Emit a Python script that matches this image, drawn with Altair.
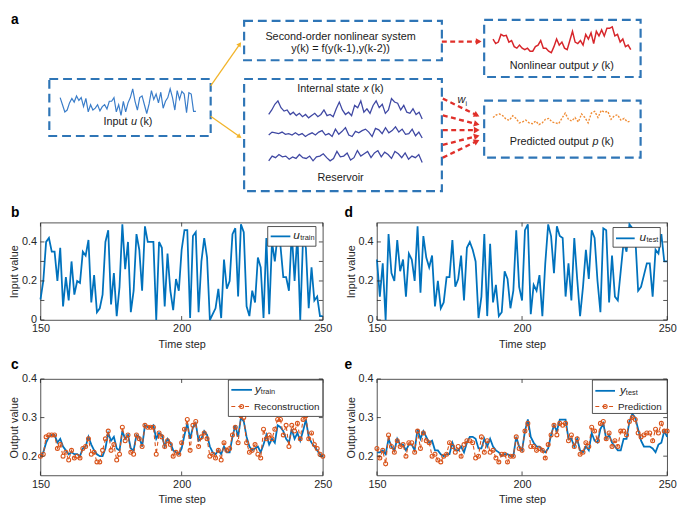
import altair as alt
import pandas as pd
import numpy as np

# ---------------- data ----------------
steps = list(range(150, 251))

u_train = [0.105,0.2,0.4,0.42,0.35,0.35,0.2,0.37,0.07,0.22,
           0.1,0.3,0.13,0.2,0.19,0.35,0.33,0.41,0.09,0.23,
           0.04,0.06,0.13,0.4,0.46,0.08,0.24,0.02,0.17,0.49,
           0.26,0.4,0.04,0.15,0.44,0.36,0.15,0.48,0.4,0.4,
           0.4,0.0,0.4,0.37,0.07,0.34,0.15,0.05,0.21,0.15,
           0.36,0.46,0.46,0.01,0.43,0.45,0.04,0.3,0.42,0.32,
           0.0,0.03,0.06,0.16,0.01,0.31,0.16,0.2,0.44,0.47,
           0.12,0.49,0.45,0.07,0.02,0.15,0.09,0.32,0.27,0.01,
           0.42,0.03,0.4,0.3,0.44,0.38,0.22,0.22,0.15,0.45,
           0.2,0.44,0.0,0.42,0.37,0.06,0.27,0.1,0.12,0.02,
           0.02]

u_test = [0.31,0.12,0.29,0.0,0.44,0.24,0.2,0.41,0.25,0.31,
          0.12,0.34,0.31,0.2,0.48,0.14,0.43,0.32,0.27,0.33,
          0.07,0.2,0.06,0.09,0.22,0.22,0.41,0.17,0.21,0.33,
          0.1,0.37,0.4,0.36,0.3,0.01,0.12,0.44,0.02,0.39,
          0.09,0.18,0.02,0.04,0.25,0.21,0.06,0.15,0.46,0.17,
          0.1,0.46,0.49,0.03,0.18,0.15,0.23,0.02,0.29,0.49,
          0.43,0.24,0.48,0.43,0.42,0.12,0.29,0.1,0.42,0.21,
          0.02,0.17,0.36,0.21,0.46,0.42,0.2,0.04,0.47,0.46,
          0.09,0.33,0.12,0.1,0.25,0.4,0.35,0.49,0.47,0.43,
          0.15,0.17,0.23,0.29,0.29,0.12,0.36,0.34,0.44,0.3,
          0.3]

y_train = [0.2,0.21,0.235,0.25,0.255,0.255,0.235,0.245,0.225,0.215,
           0.205,0.21,0.205,0.205,0.2,0.22,0.225,0.25,0.23,0.215,
           0.205,0.2,0.2,0.22,0.26,0.24,0.25,0.22,0.215,0.265,
           0.245,0.255,0.22,0.215,0.255,0.25,0.225,0.28,0.275,0.275,
           0.28,0.245,0.26,0.255,0.225,0.245,0.235,0.215,0.21,0.205,
           0.22,0.255,0.285,0.245,0.275,0.285,0.24,0.245,0.265,0.255,
           0.225,0.21,0.205,0.215,0.205,0.225,0.21,0.21,0.25,0.28,
           0.25,0.3,0.29,0.25,0.225,0.215,0.22,0.225,0.21,0.23,
           0.255,0.23,0.245,0.235,0.28,0.275,0.265,0.245,0.235,0.27,
           0.245,0.26,0.24,0.265,0.295,0.25,0.235,0.225,0.215,0.205,
           0.2]

reconstruction = [0.2,0.205,0.25,0.255,0.255,0.255,0.22,0.23,0.2,0.21,
                  0.19,0.215,0.195,0.2,0.195,0.22,0.225,0.245,0.205,0.21,
                  0.185,0.185,0.215,0.245,0.265,0.215,0.23,0.19,0.205,0.275,
                  0.24,0.255,0.21,0.205,0.255,0.245,0.225,0.28,0.275,0.275,
                  0.275,0.205,0.26,0.25,0.225,0.24,0.23,0.2,0.21,0.205,
                  0.235,0.27,0.295,0.215,0.28,0.29,0.225,0.25,0.26,0.245,
                  0.2,0.205,0.195,0.215,0.19,0.235,0.215,0.22,0.255,0.275,
                  0.235,0.305,0.3,0.235,0.21,0.215,0.23,0.205,0.195,0.27,
                  0.245,0.255,0.245,0.27,0.295,0.295,0.255,0.28,0.225,0.28,
                  0.265,0.285,0.245,0.295,0.305,0.245,0.26,0.23,0.22,0.205,
                  0.2]

y_test = [0.21,0.21,0.215,0.205,0.245,0.225,0.215,0.245,0.23,0.23,
          0.215,0.23,0.23,0.215,0.27,0.245,0.265,0.25,0.235,0.24,
          0.215,0.215,0.205,0.2,0.205,0.205,0.235,0.215,0.215,0.225,
          0.21,0.235,0.25,0.25,0.245,0.22,0.22,0.245,0.225,0.245,
          0.225,0.215,0.21,0.2,0.205,0.205,0.2,0.2,0.25,0.225,
          0.215,0.265,0.295,0.25,0.235,0.225,0.225,0.215,0.21,0.22,
          0.255,0.28,0.265,0.295,0.295,0.295,0.245,0.245,0.225,0.245,
          0.215,0.21,0.225,0.215,0.26,0.24,0.235,0.27,0.285,0.245,
          0.255,0.235,0.225,0.215,0.215,0.245,0.245,0.29,0.31,0.3,
          0.27,0.24,0.225,0.225,0.225,0.22,0.21,0.23,0.235,0.265,
          0.25]

prediction = [0.22,0.195,0.215,0.18,0.255,0.225,0.21,0.24,0.225,0.23,
              0.2,0.235,0.235,0.21,0.265,0.22,0.26,0.24,0.235,0.2,
              0.205,0.19,0.185,0.2,0.205,0.235,0.225,0.21,0.225,0.2,
              0.23,0.24,0.24,0.235,0.195,0.2,0.25,0.21,0.24,0.21,
              0.215,0.195,0.185,0.205,0.205,0.185,0.2,0.2,0.25,0.22,
              0.215,0.265,0.285,0.225,0.225,0.215,0.22,0.215,0.195,0.23,
              0.255,0.28,0.255,0.285,0.28,0.285,0.24,0.255,0.225,0.245,
              0.205,0.21,0.235,0.225,0.275,0.265,0.24,0.285,0.29,0.245,
              0.26,0.225,0.24,0.225,0.265,0.265,0.255,0.29,0.3,0.295,
              0.26,0.25,0.255,0.26,0.26,0.24,0.27,0.26,0.285,0.265,
              0.265]

x_ticks = [150, 200, 250]
input_ticks = [0, 0.1, 0.2, 0.3, 0.4]
output_ticks = [0.2, 0.3, 0.4]

# schematic sparklines (relative heights 0..1)
wave_input = [0.67,0.4,0.13,0.2,0.47,0.64,0.5,0.73,0.56,0.67,0.33,0.64,0.13,0.4,0.2,0.27,
              0.4,0.17,0.33,0.4,0.24,0.53,0.53,0.67,0.13,0.4,0.0,0.53,0.13,0.47,0.67,1.0,
              0.53,0.2,0.67,0.73,0.4,0.07,0.43,0.93,0.6,0.8,0.47,0.87,0.27,0.53,0.67,1.0,
              0.67,0.2,0.93,0.6,0.9,0.8,0.1,0.85,0.8,0.15,0.15]
wave_nonlinear = [0.6,0.45,0.5,0.75,0.7,0.72,0.5,0.55,0.35,0.3,0.4,0.3,0.25,0.3,0.2,0.2,
                  0.35,0.4,0.55,0.3,0.3,0.2,0.15,0.35,0.6,0.4,0.5,0.3,0.25,0.55,0.85,0.5,
                  0.45,0.55,0.4,0.75,0.6,0.8,0.45,0.85,0.7,0.9,0.7,0.95,0.95,1.0,0.7,0.75,
                  0.5,0.6,0.35,0.4,0.25]
wave_predicted = [0.6,0.75,0.8,0.7,0.5,0.45,0.7,0.55,0.3,0.35,0.45,0.3,0.25,0.4,0.2,0.3,
                  0.5,0.55,0.35,0.3,0.25,0.55,0.85,0.5,0.4,0.6,0.35,0.8,0.6,0.3,0.85,0.95,
                  0.6,1.0,0.9,0.95,0.5,0.7,0.75,0.45,0.55,0.35,0.4]
wave_res1 = [0.3,0.5,0.75,0.9,0.6,0.45,0.5,0.3,0.4,0.25,0.35,0.2,0.3,0.15,0.25,0.35,0.2,
             0.3,0.5,0.25,0.3,0.2,0.55,0.85,0.5,0.3,0.4,0.25,0.7,0.6,0.9,0.4,0.55,0.35,
             0.7,0.9,0.6,0.75,0.35,0.5,1.0,0.85,0.8,0.5,0.7,0.4,0.35,0.55,0.3,0.4,0.1]
wave_res2 = [0.4,0.6,0.55,0.5,0.6,0.45,0.5,0.4,0.55,0.4,0.5,0.3,0.45,0.55,0.4,0.6,0.7,
             0.4,0.5,0.3,0.8,0.45,0.65,0.9,0.4,0.3,0.65,0.55,0.7,0.8,0.6,0.3,0.85,0.75,
             0.5,0.9,0.55,0.7,0.95,0.6,0.8,0.45,0.5,0.8,0.35,0.6,0.2]
wave_res3 = [0.3,0.6,0.5,0.7,0.55,0.6,0.4,0.55,0.45,0.7,0.5,0.45,0.6,0.3,0.55,0.6,0.75,
             0.5,0.3,0.45,0.9,0.55,0.6,0.8,0.35,0.5,0.95,0.6,0.75,0.9,0.5,0.8,0.95,0.55,
             0.85,0.7,0.45,0.9,0.75,0.5,0.8,0.4,0.6,0.5,0.7,0.2]

# ---------------- style ----------------
FONT = "Liberation Sans"
BLUE = "#0072BD"
ORANGE = "#D95319"
AX = "#262626"
BOXC = "#2E75B6"
RED = "#E0302A"
YEL = "#F2B42A"

# ---------------- schematic (panel a) ----------------
SX = alt.Scale(domain=[38, 677], range=[0, 639])
SY = alt.Scale(domain=[8, 190], range=[0, 182])


def X(f):
    return alt.X(f + ":Q", scale=SX, axis=None)


def Y(f):
    return alt.Y(f + ":Q", scale=SY, axis=None)


def X2(f):
    return alt.X2(f + ":Q")


def Y2(f):
    return alt.Y2(f + ":Q")


def spark(vals, x0, x1, yt, yb, name):
    n = len(vals)
    return pd.DataFrame({
        "px": [x0 + i * (x1 - x0) / (n - 1) for i in range(n)],
        "py": [yb - v * (yb - yt) for v in vals],
        "wave": name,
    })


boxes = pd.DataFrame({
    "x": [47, 245, 245, 489, 489],
    "x2": [211, 446, 446, 648, 648],
    "y": [75, 16, 75, 15, 97],
    "y2": [133, 56, 189, 73, 155],
})
box_layer = alt.Chart(boxes).mark_rect(
    fill="transparent", stroke=BOXC, strokeWidth=2.2, strokeDash=[9, 5]
).encode(x=X("x"), x2=X2("x2"), y=Y("y"), y2=Y2("y2"))

w_in = alt.Chart(spark(wave_input, 58, 196, 85, 112, "in")).mark_line(
    color="#3A7DC9", strokeWidth=1.2).encode(x=X("px"), y=Y("py"))
w_nl = alt.Chart(spark(wave_nonlinear, 498, 638, 22, 53, "nl")).mark_line(
    color="#D7262B", strokeWidth=1.5).encode(x=X("px"), y=Y("py"))
w_pr = alt.Chart(spark(wave_predicted, 498, 638, 107, 125, "pr")).mark_line(
    color="#F08C34", strokeWidth=1.4, strokeDash=[2, 1.5]).encode(x=X("px"), y=Y("py"))
res_df = pd.concat([
    spark(wave_res1, 270, 426, 95, 118, "r1"),
    spark(wave_res2, 270, 426, 123, 138, "r2"),
    spark(wave_res3, 270, 426, 147, 163, "r3"),
])
w_res = alt.Chart(res_df).mark_line(color="#3F48A3", strokeWidth=1.3).encode(
    x=X("px"), y=Y("py"), detail="wave:N")

yel = pd.DataFrame({"x": [211, 211], "y": [82, 113], "x2": [241, 241], "y2": [39, 134]})
red = pd.DataFrame({"x": [446, 447, 447, 447, 447, 447],
                    "y": [37, 95, 112, 127, 142, 155],
                    "x2": [484, 482, 482, 482, 482, 482],
                    "y2": [37, 112, 121, 127, 133, 138]})


def heads(df):
    dx = df["x2"] - df["x"]
    dy = df["y2"] - df["y"]
    L = np.sqrt(dx ** 2 + dy ** 2)
    return pd.DataFrame({
        "hx": df["x2"] - 1.5 * dx / L,
        "hy": df["y2"] - 1.5 * dy / L,
        "ang": (np.degrees(np.arctan2(dx, -dy)) + 360) % 360,
    })


yel_l = alt.Chart(yel).mark_rule(color=YEL, strokeWidth=1.3).encode(
    x=X("x"), y=Y("y"), x2=X2("x2"), y2=Y2("y2"))
yel_h = alt.Chart(heads(yel)).mark_point(shape="triangle", filled=True, color=YEL,
                                          size=28, opacity=1).encode(
    x=X("hx"), y=Y("hy"), angle=alt.Angle("ang:Q", scale=None))
red_l = alt.Chart(red).mark_rule(color=RED, strokeWidth=2.4, strokeDash=[5, 3.5]).encode(
    x=X("x"), y=Y("y"), x2=X2("x2"), y2=Y2("y2"))
red_h = alt.Chart(heads(red)).mark_point(shape="triangle", filled=True, color=RED,
                                          size=45, opacity=1).encode(
    x=X("hx"), y=Y("hy"), angle=alt.Angle("ang:Q", scale=None))

txt_center = pd.DataFrame({
    "x": [343, 343, 343],
    "y": [32, 45, 176],
    "t": ["Second-order nonlinear system", "y(k) = f(y(k-1),y(k-2))", "Reservoir"],
})
txt_left = pd.DataFrame({
    "x": [102, 139, 515, 608, 515, 608, 299, 374],
    "y": [119, 119, 62, 62, 139, 139, 85, 85],
    "t": ["Input", "(k)", "Nonlinear output", "(k)", "Predicted output", "(k)",
          "Internal state", "(k)"],
})
txt_ital = pd.DataFrame({
    "x": [130, 599, 599, 366, 462],
    "y": [119, 62, 139, 85, 96],
    "t": ["u", "y", "p", "x", "w"],
})
tc = alt.Chart(txt_center).mark_text(font=FONT, fontSize=11, color="#1a1a1a",
                                     align="center", baseline="middle").encode(
    x=X("x"), y=Y("y"), text="t:N")
tl = alt.Chart(txt_left).mark_text(font=FONT, fontSize=11, color="#1a1a1a",
                                   align="left", baseline="middle").encode(
    x=X("x"), y=Y("y"), text="t:N")
ti = alt.Chart(txt_ital).mark_text(font=FONT, fontSize=11, fontStyle="italic",
                                   color="#1a1a1a", align="left", baseline="middle").encode(
    x=X("x"), y=Y("y"), text="t:N")
sub_i = alt.Chart(pd.DataFrame({"x": [470], "y": [100], "t": ["i"]})).mark_text(
    font=FONT, fontSize=7, color="#1a1a1a", align="left", baseline="middle").encode(
    x=X("x"), y=Y("y"), text="t:N")
lab_a = alt.Chart(pd.DataFrame({"x": [8], "y": [8], "t": ["a"]})).mark_text(
    font=FONT, fontSize=14, fontWeight="bold", color="black", align="left",
    baseline="top").encode(x=X("x"), y=Y("y"), text="t:N")

NOVIEW = alt.ViewBackground(stroke="transparent")

# the schematic sits in the first grid cell and spills over the second one
diagram = alt.layer(
    box_layer, w_in, w_nl, w_pr, w_res, yel_l, yel_h, red_l, red_h, tc, tl, ti, sub_i, lab_a
).properties(width=287, height=153, view=NOVIEW)

ONE = pd.DataFrame({"k": [0]})
filler = alt.Chart(ONE).mark_point(opacity=0).encode(
    x=alt.value(100), y=alt.value(80)).properties(width=295, height=153, view=NOVIEW)

# ---------------- data panels ----------------


def vtext(txt, x, y, size=10, style="normal", weight="normal", color=AX):
    return alt.Chart(ONE).mark_text(font=FONT, fontSize=size, fontStyle=style,
                                    fontWeight=weight, color=color, align="left",
                                    baseline="middle").encode(
        x=alt.value(x), y=alt.value(y), text=alt.value(txt))


def frame_ticks(w, h, ydom, yticks):
    xs = alt.Scale(domain=[150, 250], nice=False)
    ys = alt.Scale(domain=ydom, nice=False)
    xt = pd.DataFrame({"t": x_ticks})
    yt = pd.DataFrame({"v": yticks})
    r = dict(color=AX, strokeWidth=0.8)
    return [
        alt.Chart(xt).mark_rule(**r).encode(x=alt.X("t:Q", scale=xs), y=alt.value(h), y2=alt.value(h - 4)),
        alt.Chart(xt).mark_rule(**r).encode(x=alt.X("t:Q", scale=xs), y=alt.value(0), y2=alt.value(4)),
        alt.Chart(yt).mark_rule(**r).encode(y=alt.Y("v:Q", scale=ys), x=alt.value(0), x2=alt.value(4)),
        alt.Chart(yt).mark_rule(**r).encode(y=alt.Y("v:Q", scale=ys), x=alt.value(w), x2=alt.value(w - 4)),
    ]


def enc(ydom, yticks, ytitle):
    return dict(
        x=alt.X("t:Q", scale=alt.Scale(domain=[150, 250], nice=False),
                axis=alt.Axis(values=x_ticks, title="Time step", format="d",
                              labelFlush=False, labelPadding=3, titlePadding=5)),
        y=alt.Y("v:Q", scale=alt.Scale(domain=ydom, nice=False),
                axis=alt.Axis(values=yticks, title=ytitle, format="~g",
                              labelPadding=4, titlePadding=2)),
    )


def input_panel(vals, w, name, leg, letter, ldx):
    h = 99
    ydom = [0, 0.499]
    df = pd.DataFrame({"t": steps, "v": vals})
    line = alt.Chart(df).mark_line(color=BLUE, strokeWidth=1.8).encode(**enc(ydom, input_ticks, "Input value"))
    bx0, bx1, by0, by1, lx0, lx1, ly, tx = leg
    box = alt.Chart(ONE).mark_rect(fill="white", stroke=AX, strokeWidth=0.8).encode(
        x=alt.value(bx0), x2=alt.value(bx1), y=alt.value(by0), y2=alt.value(by1))
    sample = alt.Chart(ONE).mark_rule(color=BLUE, strokeWidth=1.8).encode(
        x=alt.value(lx0), x2=alt.value(lx1), y=alt.value(ly))
    layers = [line] + frame_ticks(w, h, ydom, input_ticks) + [
        box, sample,
        vtext("u", tx, ly - 1, size=12, style="italic"),
        vtext(name, tx + 7, ly + 2, size=7.5),
        vtext(letter, ldx, -10, size=14, weight="bold", color="black"),
    ]
    return alt.layer(*layers).properties(width=w, height=h)


def output_panel(yv, ov, w, name, label, leg, letter, ldx):
    h = 98
    ydom = [0.15, 0.4]
    df = pd.DataFrame({"t": steps, "v": yv})
    df2 = pd.DataFrame({"t": steps, "v": ov})
    e = enc(ydom, output_ticks, "Output value")
    line = alt.Chart(df).mark_line(color=BLUE, strokeWidth=1.8).encode(**e)
    oline = alt.Chart(df2).mark_line(color=ORANGE, strokeWidth=1.1, strokeDash=[4, 3]).encode(**e)
    opts = alt.Chart(df2).mark_point(shape="circle", filled=False, color=ORANGE, size=16,
                                     strokeWidth=1.1, opacity=1).encode(**e)
    bx0, bx1, by0, by1, lx0, lx1, ly1, ly2, tx, tx2 = leg
    box = alt.Chart(ONE).mark_rect(fill="white", stroke=AX, strokeWidth=0.8).encode(
        x=alt.value(bx0), x2=alt.value(bx1), y=alt.value(by0), y2=alt.value(by1))
    s1 = alt.Chart(ONE).mark_rule(color=BLUE, strokeWidth=1.8).encode(
        x=alt.value(lx0), x2=alt.value(lx1), y=alt.value(ly1))
    s2 = alt.Chart(ONE).mark_rule(color=ORANGE, strokeWidth=1.1, strokeDash=[4, 3]).encode(
        x=alt.value(lx0), x2=alt.value(lx1), y=alt.value(ly2))
    s2p = alt.Chart(ONE).mark_point(shape="circle", filled=False, color=ORANGE, size=16,
                                    strokeWidth=1.1, opacity=1).encode(
        x=alt.value((lx0 + lx1) / 2), y=alt.value(ly2))
    layers = [line, oline, opts] + frame_ticks(w, h, ydom, output_ticks) + [
        box, s1, s2, s2p,
        vtext("y", tx, ly1 - 1, size=12, style="italic"),
        vtext(name, tx + 6, ly1 + 2, size=7.5),
        vtext(label, tx2, ly2, size=10),
        vtext(letter, ldx, -14, size=14, weight="bold", color="black"),
    ]
    return alt.layer(*layers).properties(width=w, height=h)


pb = input_panel(u_train, 287, "train", (231, 280, 4, 24, 234, 254, 14, 257), "b", -30)
pd_ = input_panel(u_test, 295, "test", (240, 288, 5, 25, 243, 262, 16, 267), "d", -33)
pc = output_panel(y_train, reconstruction, 287, "train", "Reconstruction",
                  (191, 287, 1, 38, 194, 215, 11, 28, 218, 217), "c", -30)
pe = output_panel(y_test, prediction, 295, "test", "Prediction",
                  (219, 295, 1, 35, 222, 242, 12, 28, 247, 245), "e", -33)

chart = alt.concat(
    diagram, filler, pb, pd_, pc, pe,
    columns=2, bounds="flush", spacing={"row": 60, "column": 55}
).properties(
    padding=0, background="white"
).configure_view(stroke=AX, strokeWidth=0.8).configure_axis(
    labelFont=FONT, labelFontSize=11, labelColor=AX, titleFont=FONT, titleFontSize=11,
    titleFontWeight="normal", titleColor=AX, domain=False, ticks=False, grid=False
)

chart.save("out.html", embed_options={"renderer": "svg", "actions": False})
